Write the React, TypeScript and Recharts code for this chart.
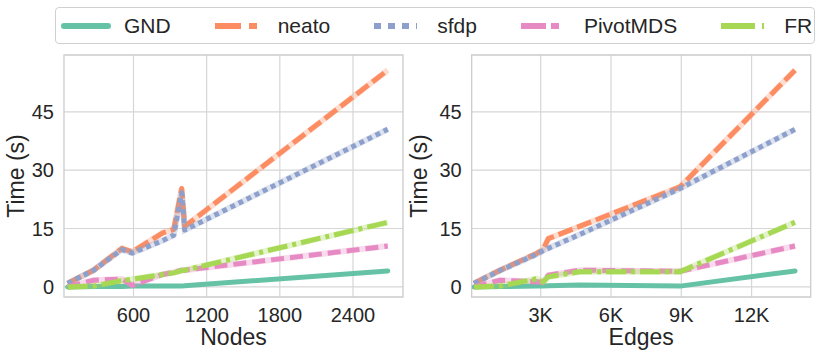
import { LineChart, Line, XAxis, YAxis, CartesianGrid, ReferenceArea } from 'recharts';

// runtime (s) by node count
const nodesX = [60, 273, 505, 590, 840, 930, 995, 1020, 2685];
const nodesGND = [0, 0.1, 0.1, 0.2, 0.2, 0.2, 0.2, 0.3, 4.1];
const nodesNeato = [0.9, 4.3, 9.9, 9.0, 13.9, 14.8, 25.3, 15.5, 55.7];
const nodesSfdp = [0.9, 4.3, 9.6, 8.7, 11.9, 13.3, 24.2, 14.6, 40.5];
const nodesPivot = [0, 1.7, 2.0, 0.4, 3.2, 3.8, 4.3, 4.3, 10.5];
const nodesFR = [0, 0.2, 1.6, 2.0, 3.2, 3.6, 4.2, 4.3, 16.6];

// runtime (s) by edge count
const edgesX = [154, 1263, 2830, 3100, 3325, 4677, 8945, 13852];
const edgesGND = [0, 0.1, 0.2, 0.2, 0.3, 0.5, 0.2, 4.1];
const edgesNeato = [0.9, 4.3, 8.6, 9.6, 12.4, 15.6, 25.7, 55.7];
const edgesSfdp = [0.9, 4.2, 8.4, 9.3, 9.9, 13.5, 25.3, 40.5];
const edgesPivot = [0, 1.7, 1.3, 1.2, 3.0, 4.3, 4.0, 10.5];
const edgesFR = [0, 0.2, 2.1, 1.3, 2.6, 3.9, 3.9, 16.6];

const nodeTicks = [600, 1200, 1800, 2400];
const edgeTicks = [3000, 6000, 9000, 12000];
const timeTicks = [0, 15, 30, 45];

const FONT = '"Liberation Sans", Arial, sans-serif';
const INK = '#262626';

const series = [
  { key: 'GND', color: '#66c2a5', dash: undefined, legendDash: undefined, legendLen: 50, cap: 'round' },
  { key: 'neato', color: '#fc8d62', dash: '15 5', legendDash: '26 8', legendLen: 42, cap: 'butt' },
  { key: 'sfdp', color: '#8da0cb', dash: '5 4', legendDash: '7 7', legendLen: 43, cap: 'butt' },
  { key: 'PivotMDS', color: '#e78ac3', dash: '13 6', legendDash: '25 5', legendLen: 38, cap: 'butt' },
  { key: 'FR', color: '#a6d854', dash: '20 5 4 5', legendDash: '34 7 3 7', legendLen: 43, cap: 'butt' },
];

const buildRows = (xs: number[], cols: number[][]) =>
  xs.map((x, i) => ({
    x,
    GND: cols[0][i],
    neato: cols[1][i],
    sfdp: cols[2][i],
    PivotMDS: cols[3][i],
    FR: cols[4][i],
  }));

const nodesData = buildRows(nodesX, [nodesGND, nodesNeato, nodesSfdp, nodesPivot, nodesFR]);
const edgesData = buildRows(edgesX, [edgesGND, edgesNeato, edgesSfdp, edgesPivot, edgesFR]);

const Y_DOMAIN: [number, number] = [-2.6, 59.6];

interface PanelProps {
  data: any[];
  width: number;
  left: number;
  yAxisWidth: number;
  marginRight: number;
  xDomain: [number, number];
  xTicks: number[];
  xLabel: string;
  yLabelOffset: number;
  tickFormat?: (v: number) => string;
}

function Panel({ data, width, left, yAxisWidth, marginRight, xDomain, xTicks, xLabel, yLabelOffset, tickFormat }: PanelProps) {
  const tickStyle = { fontSize: 20, fill: INK, fontFamily: FONT };
  return (
    <div style={{ position: 'absolute', left, top: 0 }}>
      <LineChart width={width} height={357} data={data} margin={{ top: 55, right: marginRight, bottom: 0, left: 0 }}>
        <CartesianGrid stroke="#d6d6d6" strokeWidth={1.2} horizontalValues={timeTicks} verticalValues={xTicks} />
        <ReferenceArea x1={xDomain[0]} x2={xDomain[1]} y1={Y_DOMAIN[0]} y2={Y_DOMAIN[1]} fill="none" stroke="#cccccc" strokeWidth={1.3} />
        <XAxis
          type="number"
          dataKey="x"
          domain={xDomain}
          ticks={xTicks}
          allowDataOverflow
          height={60}
          axisLine={false}
          tickLine={false}
          tickSize={0}
          tickMargin={11}
          tick={tickStyle}
          tickFormatter={tickFormat}
          label={(p: any) => (
            <text
              x={p.viewBox.x + p.viewBox.width / 2}
              y={p.viewBox.y + 48}
              textAnchor="middle"
              fontSize={23}
              fontFamily={FONT}
              fill={INK}
            >
              {xLabel}
            </text>
          )}
        />
        <YAxis
          type="number"
          domain={Y_DOMAIN}
          ticks={timeTicks}
          allowDataOverflow
          width={yAxisWidth}
          axisLine={false}
          tickLine={false}
          tickSize={0}
          tickMargin={10}
          tick={tickStyle}
          label={(p: any) => {
            const tx = p.viewBox.x + yLabelOffset;
            const ty = p.viewBox.y + p.viewBox.height / 2;
            return (
              <text
                x={tx}
                y={ty}
                transform={`rotate(-90, ${tx}, ${ty})`}
                textAnchor="middle"
                fontSize={23}
                fontFamily={FONT}
                fill={INK}
              >
                Time (s)
              </text>
            );
          }}
        />
        {series.map((s) => [
          s.dash ? (
            <Line
              key={s.key + '-halo'}
              dataKey={s.key}
              stroke={s.color}
              strokeOpacity={0.3}
              strokeWidth={6}
              dot={false}
              activeDot={false}
              isAnimationActive={false}
              legendType="none"
            />
          ) : null,
          <Line
            key={s.key}
            dataKey={s.key}
            stroke={s.color}
            strokeWidth={5}
            strokeDasharray={s.dash}
            strokeLinecap={s.cap as any}
            strokeLinejoin="round"
            dot={false}
            activeDot={false}
            isAnimationActive={false}
          />,
        ])}
      </LineChart>
    </div>
  );
}

function LegendBox() {
  return (
    <div
      style={{
        position: 'absolute',
        left: 55,
        top: 7,
        width: 760,
        height: 37,
        border: '1.3px solid #d0d0d0',
        borderRadius: 4,
        background: '#fff',
        boxSizing: 'border-box',
        display: 'flex',
        alignItems: 'center',
        paddingLeft: 5,
        gap: 44,
        fontFamily: FONT,
        fontSize: 21,
        color: INK,
      }}
    >
      {series.map((s) => (
        <div key={s.key} style={{ display: 'flex', alignItems: 'center' }}>
          <svg width={50} height={12} style={{ marginRight: 13 }}>
            <line
              x1={s.cap === 'round' ? 3 : 0}
              x2={s.cap === 'round' ? s.legendLen - 3 : s.legendLen}
              y1={6}
              y2={6}
              stroke={s.color}
              strokeWidth={6}
              strokeLinecap={s.cap as any}
              strokeDasharray={s.legendDash}
            />
          </svg>
          <span style={{ lineHeight: 1 }}>{s.key}</span>
        </div>
      ))}
    </div>
  );
}

export default function App() {
  return (
    <div style={{ position: 'absolute', left: 0, top: 0, width: 822, height: 357, background: '#fff', overflow: 'hidden' }}>
      <Panel
        data={nodesData}
        width={410}
        left={0}
        yAxisWidth={64}
        marginRight={7}
        xDomain={[30, 2810]}
        xTicks={nodeTicks}
        xLabel="Nodes"
        yLabelOffset={23.5}
      />
      <Panel
        data={edgesData}
        width={427}
        left={395}
        yAxisWidth={76.7}
        marginRight={11.3}
        xDomain={[55, 14522]}
        xTicks={edgeTicks}
        xLabel="Edges"
        yLabelOffset={32.2}
        tickFormat={(v: number) => `${v / 1000}K`}
      />
      <LegendBox />
    </div>
  );
}
